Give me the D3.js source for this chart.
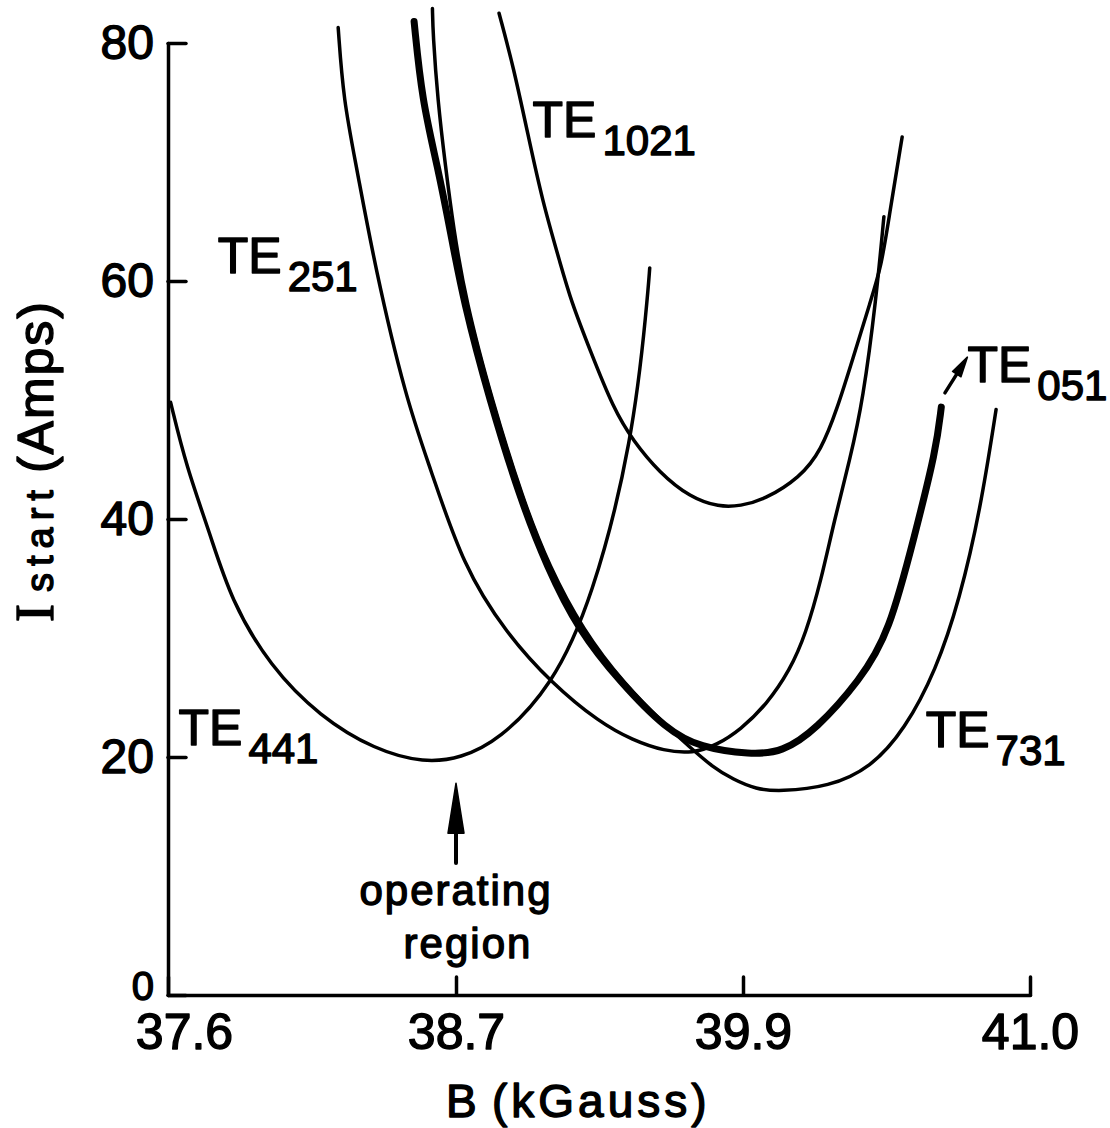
<!DOCTYPE html>
<html>
	<head>
		<title>Start current vs magnetic field</title>
		<style>
			body,
			html {
				margin: 0;
				padding: 0;
				background: #fff;
			}
			svg {
				display: block;
			}
			text {
				font-family: 'Liberation Sans', Arial, sans-serif;
				fill: #000;
				stroke: #000;
				stroke-width: 1.4px;
				stroke-linejoin: round;
			}
		</style>
	</head>
	<body>
		<svg id="svg" width="1110" height="1128"></svg>

		<script src="https://d3js.org/d3.v7.min.js"></script>
		<script>
			// axis ticks as printed on the original figure
			const bTicks = [37.6, 38.7, 39.9, 41.0];
			const iTicks = [0, 20, 40, 60, 80];

			// mode curves: B (kGauss) and I start (Amps)
			const te441B = [37.61, 37.67, 37.76, 37.84, 37.99, 38.18, 38.39, 38.58, 38.72, 38.88, 39.1, 39.27, 39.44, 39.5, 39.51];
			const te441I = [49.8, 44.4, 38.8, 33.2, 27.6, 23.4, 20.6, 19.5, 19.9, 21.4, 25.9, 33.2, 46.6, 58.4, 61.1];

			const te251B = [38.25, 38.27, 38.32, 38.39, 38.51, 38.6, 38.73, 38.91, 39.1, 39.3, 39.44, 39.57, 39.69, 39.79, 39.89, 39.99, 40.08, 40.14, 40.2, 40.25, 40.31, 40.36, 40.41, 40.44];
			const te251I = [81.3, 75.2, 69.6, 61.2, 50.0, 44.4, 36.0, 30.4, 26.2, 22.9, 21.4, 20.5, 20.3, 21.0, 22.3, 24.4, 27.3, 30.3, 34.9, 39.9, 45.0, 50.0, 58.4, 65.4];

			const te051B = [38.54, 38.57, 38.63, 38.68, 38.73, 38.84, 38.97, 39.08, 39.21, 39.39, 39.58, 39.72, 39.93, 40.05, 40.18, 40.35, 40.46, 40.56, 40.64, 40.66];
			const te051I = [81.8, 75.2, 69.6, 64.0, 58.4, 50.0, 41.6, 36.0, 30.7, 26.2, 22.3, 20.8, 20.2, 20.4, 22.3, 26.5, 30.4, 38.8, 45.8, 49.4];

			const te731B = [38.61, 38.612, 38.63, 38.66, 38.69, 38.74, 38.85, 38.98, 39.09, 39.23, 39.4, 39.59, 39.68, 39.77, 39.86, 39.95, 40.04, 40.23, 40.39, 40.52, 40.64, 40.73, 40.81, 40.87];
			const te731I = [82.9, 80.8, 75.2, 69.6, 64.5, 58.4, 50.0, 41.6, 36.0, 30.7, 26.2, 22.4, 20.8, 19.2, 18.1, 17.3, 17.1, 17.5, 19.1, 22.3, 27.3, 33.2, 40.8, 49.2];

			const te1021B = [38.88, 38.94, 39.0, 39.06, 39.14, 39.18, 39.26, 39.36, 39.44, 39.55, 39.68, 39.8, 39.89, 39.98, 40.12, 40.2, 40.26, 40.32, 40.39, 40.43, 40.46, 40.51];
			const te1021I = [82.5, 78.0, 72.4, 66.8, 61.2, 58.4, 54.2, 49.2, 46.6, 43.9, 41.8, 41.0, 41.1, 41.6, 43.5, 45.8, 49.2, 53.4, 58.4, 61.2, 65.4, 72.1];

			// mode labels (anchored at a B, I point)
			const labelText = ['1021', '251', '441', '051', '731'];
			const labelB = [39.02, 37.79, 37.64, 40.76, 40.6];
			const labelI = [72.1, 60.7, 21.0, 51.5, 20.8];

			const svg = d3.select('#svg');

			// the hand drawn B axis has equal spacing for unequal steps
			const x = d3.scaleLinear().domain(bTicks).range([168, 456, 743, 1030]);
			const y = d3.scaleLinear().domain([0, 80]).range([995, 43]);

			const curves = [
				{ b: te441B, i: te441I, w: 3.5 },
				{ b: te251B, i: te251I, w: 3.5 },
				{ b: te731B, i: te731I, w: 3.5 },
				{ b: te1021B, i: te1021I, w: 3.5 },
				{ b: te051B, i: te051I, w: 7 },
			];

			const linegen = d3
				.line()
				.x((d) => x(d[0]))
				.y((d) => y(d[1]))
				.curve(d3.curveBasis);

			svg
				.append('g')
				.selectAll('path')
				.data(curves)
				.join('path')
				.attr('d', (c) => linegen(d3.zip(c.b, c.i)))
				.attr('fill', 'none')
				.attr('stroke', '#000')
				.attr('stroke-width', (c) => c.w)
				.attr('stroke-linecap', 'round')
				.attr('stroke-linejoin', 'round');

			// axes
			const xAxis = d3
				.axisBottom(x)
				.tickValues(bTicks)
				.tickFormat(d3.format('.1f'))
				.tickSizeInner(-18)
				.tickSizeOuter(0)
				.tickPadding(18);
			const gx = svg.append('g').attr('transform', `translate(0, ${y(0)})`).call(xAxis);

			const yAxis = d3
				.axisLeft(y)
				.tickValues(iTicks)
				.tickSizeInner(-18)
				.tickSizeOuter(0)
				.tickPadding(14);
			const gy = svg.append('g').attr('transform', `translate(${x(37.6)}, 0)`).call(yAxis);

			[gx, gy].forEach((g) => {
				g.attr('font-family', null).attr('font-size', null);
				g.selectAll('path, line').attr('stroke', '#000').attr('stroke-width', 3.5).attr('stroke-linecap', 'round');
			});
			gx.selectAll('text').attr('font-size', 50);
			gx.selectAll('.tick text')
				.filter((d) => d === 37.6)
				.attr('dx', 16);
			gy.selectAll('text').attr('font-size', (d) => (d === 0 ? 40 : 48));
			gy.selectAll('.tick text')
				.filter((d) => d === 0)
				.attr('y', -8);

			// axis titles
			svg.append('text').attr('x', 446).attr('y', 1117).attr('font-size', 46).text('B');
			svg
				.append('text')
				.attr('x', 492)
				.attr('y', 1117)
				.attr('font-size', 46)
				.attr('letter-spacing', 4)
				.text('(kGauss)');

			const ytitle = svg.append('text').attr('transform', 'translate(53, 622) rotate(-90)');
			ytitle.append('tspan').attr('font-family', "'Liberation Serif', serif").attr('font-size', 54).text('I');
			ytitle.append('tspan').attr('dx', 12).attr('font-size', 38).attr('letter-spacing', 7).text('start');
			ytitle.append('tspan').attr('dx', 10).attr('font-size', 50).attr('letter-spacing', 2).text('(Amps)');

			// mode labels TE with subscript
			const lab = svg
				.append('g')
				.selectAll('text')
				.data(labelText)
				.join('text')
				.attr('x', (d, k) => x(labelB[k]))
				.attr('y', (d, k) => y(labelI[k]));
			lab.append('tspan').attr('font-size', 50).text('TE');
			lab.append('tspan').attr('dx', 6).attr('dy', 18).attr('font-size', 42).text((d) => d);

			// arrow from the TE051 curve end to its label
			const arrowB = [40.674, 40.76];
			const arrowI = [50.6, 53.6];
			function arrow(x1, y1, x2, y2, headLen, headHalf, w) {
				const dx = x2 - x1;
				const dy = y2 - y1;
				const len = Math.hypot(dx, dy);
				const ux = dx / len;
				const uy = dy / len;
				const bx = x2 - ux * headLen;
				const by = y2 - uy * headLen;
				svg.append('line')
					.attr('x1', x1)
					.attr('y1', y1)
					.attr('x2', bx)
					.attr('y2', by)
					.attr('stroke', '#000')
					.attr('stroke-width', w)
					.attr('stroke-linecap', 'round');
				svg.append('path')
					.attr('d', `M${x2},${y2}L${bx - uy * headHalf},${by + ux * headHalf}L${bx + uy * headHalf},${by - ux * headHalf}Z`)
					.attr('fill', '#000')
					.attr('stroke', '#000')
					.attr('stroke-width', 1.5)
					.attr('stroke-linejoin', 'round');
			}
			arrow(x(arrowB[0]), y(arrowI[0]), x(arrowB[1]), y(arrowI[1]), 20, 5, 3.5);

			// operating region marker
			const opB = 38.7;
			const opI = [11.1, 17.8];
			arrow(x(opB), y(opI[0]), x(opB), y(opI[1]), 50, 8, 4);
			svg.append('text')
				.attr('x', x(opB))
				.attr('y', y(7.6))
				.attr('text-anchor', 'middle')
				.attr('font-size', 42)
				.attr('letter-spacing', 2)
				.text('operating');
			svg.append('text')
				.attr('x', x(opB) + 12)
				.attr('y', y(3.1))
				.attr('text-anchor', 'middle')
				.attr('font-size', 42)
				.attr('letter-spacing', 2)
				.text('region');
		</script>
	</body>
</html>
